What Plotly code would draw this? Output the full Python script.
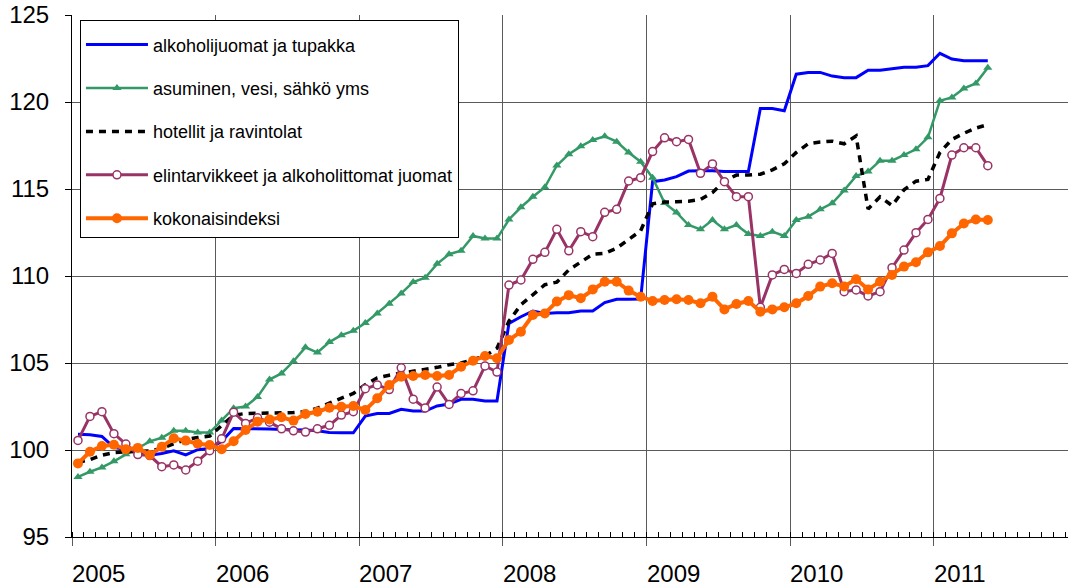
import plotly.graph_objects as go

# Months Jan 2005 .. May 2011 (77 monthly observations)
years = ["2005", "2006", "2007", "2008", "2009", "2010", "2011"]
n_months = 77
month_index = [i + 0.5 for i in range(n_months)]

alkoholi = [100.9, 100.88, 100.78, 100.15, 100.02, 99.88, 99.7, 99.8, 99.95, 99.72, 100.02, 100.08,
            100.5, 101.24, 101.24, 101.22, 101.2, 101.18, 101.17, 101.15, 101.1, 101.0, 100.99, 100.99,
            101.95, 102.1, 102.1, 102.34, 102.24, 102.24, 102.53, 102.64, 102.91, 102.91, 102.82, 102.82,
            107.28, 107.66, 107.99, 107.85, 107.89, 107.89, 107.99, 107.99, 108.47, 108.66, 108.66, 108.68,
            115.42, 115.52, 115.71, 116.03, 116.05, 116.05, 116.0, 116.0, 116.0, 119.63, 119.62, 119.5,
            121.6, 121.7, 121.7, 121.49, 121.4, 121.4, 121.82, 121.82, 121.9, 122.0, 122.0, 122.09,
            122.8, 122.47, 122.37, 122.37, 122.37]

asuminen = [98.45, 98.75, 99.0, 99.35, 99.75, 100.1, 100.5, 100.7, 101.1, 101.1, 101.0, 101.0,
            101.7, 102.4, 102.5, 103.05, 104.05, 104.4, 105.1, 105.9, 105.6, 106.2, 106.6, 106.85,
            107.3, 107.85, 108.4, 109.0, 109.65, 109.9, 110.7, 111.25, 111.45, 112.3, 112.15, 112.15,
            113.25, 113.95, 114.55, 115.1, 116.35, 117.0, 117.45, 117.82, 118.03, 117.72, 117.1, 116.57,
            115.65, 114.2, 113.65, 112.93, 112.68, 113.22, 112.68, 112.93, 112.41, 112.3, 112.55, 112.3,
            113.22, 113.41, 113.83, 114.18, 114.92, 115.75, 116.0, 116.63, 116.63, 116.95, 117.28, 117.97,
            120.07, 120.26, 120.78, 121.07, 121.97]

hotellit = [99.3, 99.45, 99.7, 99.85, 99.9, 99.9, 99.95, 100.1, 100.35, 100.6, 100.72, 100.8,
            101.4, 102.0, 102.1, 102.1, 102.1, 102.1, 102.15, 102.2, 102.4, 102.7, 103.0, 103.25,
            103.75, 104.15, 104.3, 104.4, 104.5, 104.6, 104.75, 104.9, 105.0, 105.2, 105.4, 105.85,
            107.4, 108.35, 108.9, 109.5, 109.65, 110.35, 110.8, 111.25, 111.3, 111.6, 112.1, 112.6,
            114.15, 114.25, 114.27, 114.3, 114.4, 114.8, 115.45, 115.8, 115.8, 115.85, 116.1, 116.45,
            117.1, 117.6, 117.7, 117.75, 117.6, 118.05, 113.85, 114.55, 114.05, 114.95, 115.45, 115.55,
            117.1, 117.85, 118.2, 118.5, 118.7]

elintarvikkeet = [100.55, 101.93, 102.2, 100.94, 100.34, 99.74, 99.68, 99.04, 99.14, 98.85, 99.36, 99.96,
                  100.64, 102.17, 101.53, 101.85, 101.6, 101.22, 101.1, 101.03, 101.22, 101.42, 102.01, 102.2,
                  103.52, 103.74, 103.47, 104.72, 102.92, 102.41, 103.62, 102.62, 103.24, 103.4, 104.83, 104.48,
                  109.48, 109.77, 110.96, 111.36, 112.68, 111.45, 112.55, 112.26, 113.66, 113.83, 115.46, 115.65,
                  117.15, 117.94, 117.72, 117.85, 115.9, 116.44, 115.42, 114.56, 114.56, 108.2, 110.06, 110.38,
                  110.15, 110.67, 110.92, 111.3, 109.1, 109.2, 108.85, 109.1, 110.48, 111.49, 112.49, 113.25,
                  114.46, 116.95, 117.37, 117.37, 116.34]

kokonais = [99.23, 99.9, 100.23, 100.3, 100.04, 100.12, 99.71, 100.19, 100.67, 100.54, 100.36, 100.29,
            100.04, 100.5, 101.15, 101.63, 101.76, 101.88, 101.69, 102.07, 102.2, 102.43, 102.49, 102.53,
            102.3, 102.97, 103.74, 104.21, 104.25, 104.31, 104.25, 104.31, 104.79, 105.13, 105.4, 105.27,
            106.32, 106.8, 107.76, 107.85, 108.53, 108.9, 108.72, 109.23, 109.67, 109.67, 109.16, 108.81,
            108.56, 108.62, 108.66, 108.62, 108.43, 108.81, 108.08, 108.39, 108.56, 107.95, 108.08, 108.2,
            108.43, 108.85, 109.39, 109.58, 109.4, 109.81, 109.23, 109.67, 110.06, 110.54, 110.79, 111.36,
            111.72, 112.45, 113.02, 113.25, 113.22]

FONT = "Liberation Sans, Arial, sans-serif"

fig = go.Figure()
fig.add_trace(go.Scatter(x=month_index, y=alkoholi, name="alkoholijuomat ja tupakka",
                         mode="lines", line=dict(color="#0000FF", width=3), legendgroup="a"))
fig.add_trace(go.Scatter(x=month_index, y=asuminen, name="asuminen, vesi, sähkö yms",
                         mode="lines+markers", line=dict(color="#339966", width=2.5),
                         marker=dict(symbol="triangle-up", size=8, color="#339966"), legendgroup="b"))
fig.add_trace(go.Scatter(x=month_index, y=hotellit, name="hotellit ja ravintolat",
                         mode="lines", line=dict(color="#000000", width=3.5, dash="7px,6px"), legendgroup="c"))
fig.add_trace(go.Scatter(x=month_index, y=elintarvikkeet, name="elintarvikkeet ja alkoholittomat juomat",
                         mode="lines+markers", line=dict(color="#993366", width=3),
                         marker=dict(symbol="circle", size=8, color="white",
                                     line=dict(color="#993366", width=1.5)), legendgroup="d"))
fig.add_trace(go.Scatter(x=month_index, y=kokonais, name="kokonaisindeksi",
                         mode="lines+markers", line=dict(color="#FF6600", width=4),
                         marker=dict(symbol="circle", size=10, color="#FF6600"), legendgroup="e"))

for k, yr in enumerate(years):
    fig.add_annotation(x=12 * k, y=-0.069, xref="x", yref="paper", text=yr, showarrow=False,
                       xanchor="left", yanchor="middle", xshift=-2,
                       font=dict(family=FONT, size=24, color="black"))

fig.update_layout(
    width=1070, height=587,
    margin=dict(l=72, r=2, t=15, b=50),
    paper_bgcolor="white", plot_bgcolor="white",
    font=dict(family=FONT, size=24, color="black"),
    showlegend=True,
    legend=dict(x=0.008, y=0.99, xanchor="left", yanchor="top",
                bgcolor="white", bordercolor="black", borderwidth=1,
                font=dict(family=FONT, size=18, color="black"),
                title=dict(text=" ", font=dict(size=4)),
                tracegroupgap=17, itemwidth=62),
    xaxis=dict(range=[0, 83.2], tickvals=[12 * k for k in range(8)], ticktext=[""] * 8,
               showgrid=True, gridcolor="#5a5a5a", gridwidth=1,
               ticks="outside", ticklen=8, tickcolor="#5a5a5a",
               showline=True, linecolor="black", linewidth=1,
               minor=dict(dtick=1, tick0=0, ticks="inside", ticklen=5, tickcolor="black", showgrid=False),
               zeroline=False, fixedrange=True),
    yaxis=dict(range=[95, 125], dtick=5, tick0=95,
               showgrid=True, gridcolor="#5a5a5a", gridwidth=1,
               ticks="outside", ticklen=6, tickcolor="black",
               showline=True, linecolor="black", linewidth=1,
               ticklabelstandoff=11, ticklabeloverflow="allow",
               tickfont=dict(family=FONT, size=24, color="black"),
               zeroline=False, fixedrange=True),
)

# remove the default 8px page margin so the figure fills the 1070x587 window exactly
fig.write_html("out.html", config={"displayModeBar": False},
               post_script="document.body.style.margin='0';")
